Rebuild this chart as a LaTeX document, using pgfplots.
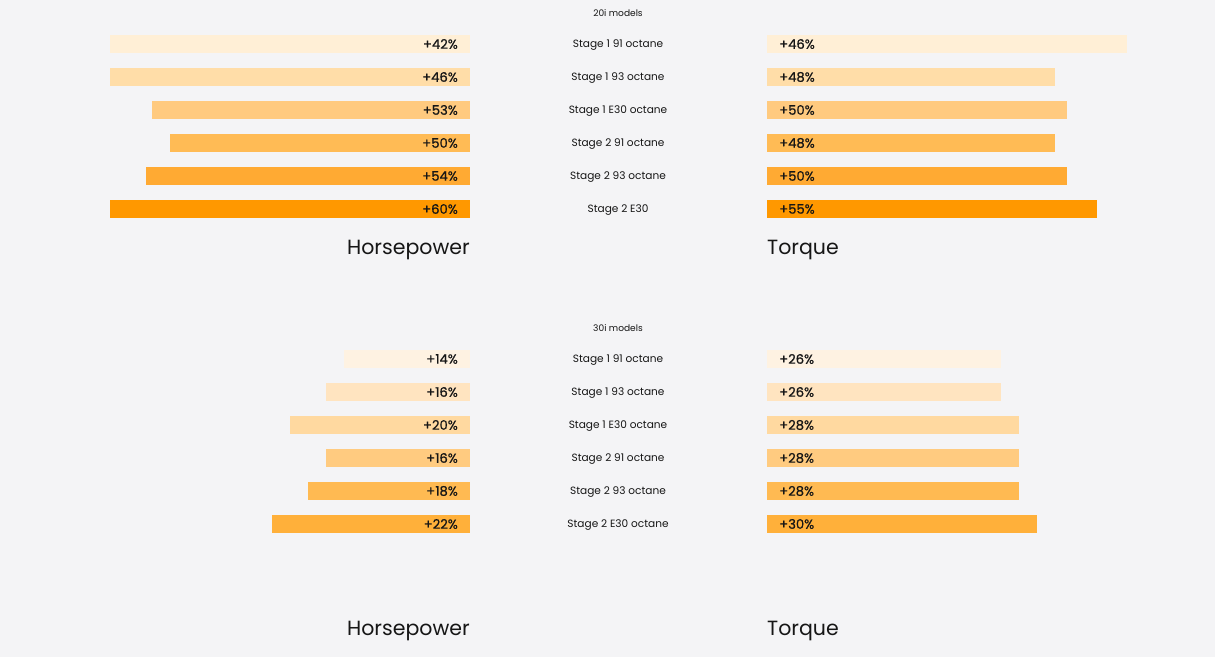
\documentclass[border=0pt]{standalone}
\usepackage{pgfplots}
\pgfplotsset{compat=1.18}
\usepackage{fontspec}
\setmainfont{Poppins}
\newfontfamily\pmed[FakeBold=0.8]{Poppins}
\definecolor{bg}{HTML}{F4F4F6}
\definecolor{txt}{HTML}{161616}
\definecolor{ta}{HTML}{FFEFD6}
\definecolor{tb}{HTML}{FFDDA8}
\definecolor{tc}{HTML}{FFCA7F}
\definecolor{td}{HTML}{FFBB55}
\definecolor{te}{HTML}{FFAA33}
\definecolor{tf}{HTML}{FF9800}
\definecolor{ba}{HTML}{FEF2E2}
\definecolor{bb}{HTML}{FFE4C0}
\definecolor{bc}{HTML}{FFD9A0}
\definecolor{bd}{HTML}{FFCB80}
\definecolor{be}{HTML}{FFBA52}
\definecolor{bf}{HTML}{FFB03A}
\pgfplotsset{
  mypanel/.style={
    scale only axis, width=360bp, height=198bp,
    xbar, bar width=18bp, bar shift=0pt,
    hide axis, clip=false,
    y dir=reverse, ymin=0.5, ymax=6.5,
  },
}
\tikzset{
  vl/.style={font=\pmed\fontsize{13.2}{15}\selectfont, text=txt, inner sep=0pt},
  cl/.style={font=\fontsize{10.6}{12}\selectfont, text=txt, yshift=-1.5bp},
  ttl/.style={font=\fontsize{20.6}{24}\selectfont, text=txt, inner sep=0pt},
}
\begin{document}
\begin{tikzpicture}
\fill[bg] (0bp,0bp) rectangle (1215bp,657bp);
% ---------- top: 20i models ----------
\node[font=\fontsize{9.1}{10}\selectfont, text=txt] at (618bp,644bp) {20i models};
\node[cl] at (618bp,613bp) {Stage 1 91 octane};
\node[cl] at (618bp,580bp) {Stage 1 93 octane};
\node[cl] at (618bp,547bp) {Stage 1 E30 octane};
\node[cl] at (618bp,514bp) {Stage 2 91 octane};
\node[cl] at (618bp,481bp) {Stage 2 93 octane};
\node[cl] at (618bp,448bp) {Stage 2 E30};
\begin{axis}[mypanel, at={(470bp,629.5bp)}, anchor=north east, x dir=reverse, xmin=0, xmax=60]
\addplot[fill=ta, draw=none] coordinates {(60,1)};
\addplot[fill=tb, draw=none] coordinates {(60,2)};
\addplot[fill=tc, draw=none] coordinates {(53,3)};
\addplot[fill=td, draw=none] coordinates {(50,4)};
\addplot[fill=te, draw=none] coordinates {(54,5)};
\addplot[fill=tf, draw=none] coordinates {(60,6)};
\node[vl, anchor=east, xshift=-12bp] at (axis cs:0,1) {+42\%};
\node[vl, anchor=east, xshift=-12bp] at (axis cs:0,2) {+46\%};
\node[vl, anchor=east, xshift=-12bp] at (axis cs:0,3) {+53\%};
\node[vl, anchor=east, xshift=-12bp] at (axis cs:0,4) {+50\%};
\node[vl, anchor=east, xshift=-12bp] at (axis cs:0,5) {+54\%};
\node[vl, anchor=east, xshift=-12bp] at (axis cs:0,6) {+60\%};
\end{axis}
\begin{axis}[mypanel, at={(767bp,629.5bp)}, anchor=north west, xmin=0, xmax=60]
\addplot[fill=ta, draw=none] coordinates {(60,1)};
\addplot[fill=tb, draw=none] coordinates {(48,2)};
\addplot[fill=tc, draw=none] coordinates {(50,3)};
\addplot[fill=td, draw=none] coordinates {(48,4)};
\addplot[fill=te, draw=none] coordinates {(50,5)};
\addplot[fill=tf, draw=none] coordinates {(55,6)};
\node[vl, anchor=west, xshift=12bp] at (axis cs:0,1) {+46\%};
\node[vl, anchor=west, xshift=12bp] at (axis cs:0,2) {+48\%};
\node[vl, anchor=west, xshift=12bp] at (axis cs:0,3) {+50\%};
\node[vl, anchor=west, xshift=12bp] at (axis cs:0,4) {+48\%};
\node[vl, anchor=west, xshift=12bp] at (axis cs:0,5) {+50\%};
\node[vl, anchor=west, xshift=12bp] at (axis cs:0,6) {+55\%};
\end{axis}
\node[ttl, anchor=east] at (470bp,407bp) {Horsepower};
\node[ttl, anchor=west] at (767bp,407bp) {Torque};
% ---------- bottom: 30i models ----------
\node[font=\fontsize{9.1}{10}\selectfont, text=txt] at (618bp,329bp) {30i models};
\node[cl] at (618bp,298bp) {Stage 1 91 octane};
\node[cl] at (618bp,265bp) {Stage 1 93 octane};
\node[cl] at (618bp,232bp) {Stage 1 E30 octane};
\node[cl] at (618bp,199bp) {Stage 2 91 octane};
\node[cl] at (618bp,166bp) {Stage 2 93 octane};
\node[cl] at (618bp,133bp) {Stage 2 E30 octane};
\begin{axis}[mypanel, at={(470bp,314.5bp)}, anchor=north east, x dir=reverse, xmin=0, xmax=40]
\addplot[fill=ba, draw=none] coordinates {(14,1)};
\addplot[fill=bb, draw=none] coordinates {(16,2)};
\addplot[fill=bc, draw=none] coordinates {(20,3)};
\addplot[fill=bd, draw=none] coordinates {(16,4)};
\addplot[fill=be, draw=none] coordinates {(18,5)};
\addplot[fill=bf, draw=none] coordinates {(22,6)};
\node[vl, anchor=east, xshift=-12bp] at (axis cs:0,1) {+14\%};
\node[vl, anchor=east, xshift=-12bp] at (axis cs:0,2) {+16\%};
\node[vl, anchor=east, xshift=-12bp] at (axis cs:0,3) {+20\%};
\node[vl, anchor=east, xshift=-12bp] at (axis cs:0,4) {+16\%};
\node[vl, anchor=east, xshift=-12bp] at (axis cs:0,5) {+18\%};
\node[vl, anchor=east, xshift=-12bp] at (axis cs:0,6) {+22\%};
\end{axis}
\begin{axis}[mypanel, at={(767bp,314.5bp)}, anchor=north west, xmin=0, xmax=40]
\addplot[fill=ba, draw=none] coordinates {(26,1)};
\addplot[fill=bb, draw=none] coordinates {(26,2)};
\addplot[fill=bc, draw=none] coordinates {(28,3)};
\addplot[fill=bd, draw=none] coordinates {(28,4)};
\addplot[fill=be, draw=none] coordinates {(28,5)};
\addplot[fill=bf, draw=none] coordinates {(30,6)};
\node[vl, anchor=west, xshift=12bp] at (axis cs:0,1) {+26\%};
\node[vl, anchor=west, xshift=12bp] at (axis cs:0,2) {+26\%};
\node[vl, anchor=west, xshift=12bp] at (axis cs:0,3) {+28\%};
\node[vl, anchor=west, xshift=12bp] at (axis cs:0,4) {+28\%};
\node[vl, anchor=west, xshift=12bp] at (axis cs:0,5) {+28\%};
\node[vl, anchor=west, xshift=12bp] at (axis cs:0,6) {+30\%};
\end{axis}
\node[ttl, anchor=east] at (470bp,26bp) {Horsepower};
\node[ttl, anchor=west] at (767bp,26bp) {Torque};
\end{tikzpicture}
\end{document}
